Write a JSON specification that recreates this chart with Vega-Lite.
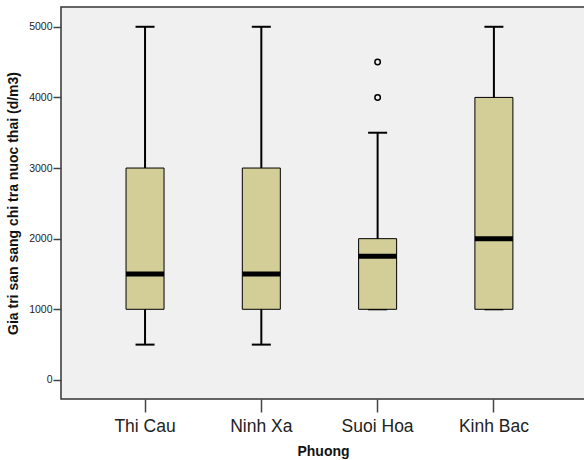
{
  "$schema": "https://vega.github.io/schema/vega-lite/v6.json",
  "width": 524,
  "height": 392,
  "autosize": {"type": "none"},
  "padding": {"left": 61, "top": 7, "right": 0, "bottom": 61},
  "background": "white",
  "config": {
    "view": {"fill": "#F0F0F0", "stroke": "#333333", "strokeWidth": 1.5},
    "font": "Liberation Sans",
    "tick": {"opacity": 1},
    "axis": {"grid": false, "domain": false, "labelFont": "Liberation Sans", "titleFont": "Liberation Sans", "tickColor": "#444", "labelColor": "#222", "titleColor": "#111"}
  },
  "datasets": {
    "boxes": [
      {"Phuong": "Thi Cau", "lo": 500, "q1": 1000, "med": 1500, "q3": 3000, "hi": 5000},
      {"Phuong": "Ninh Xa", "lo": 500, "q1": 1000, "med": 1500, "q3": 3000, "hi": 5000},
      {"Phuong": "Suoi Hoa", "lo": 1000, "q1": 1000, "med": 1750, "q3": 2000, "hi": 3500},
      {"Phuong": "Kinh Bac", "lo": 1000, "q1": 1000, "med": 2000, "q3": 4000, "hi": 5000}
    ],
    "outliers": [
      {"Phuong": "Suoi Hoa", "v": 4000},
      {"Phuong": "Suoi Hoa", "v": 4500}
    ]
  },
  "encoding": {
    "x": {
      "field": "Phuong", "type": "nominal",
      "sort": ["Thi Cau", "Ninh Xa", "Suoi Hoa", "Kinh Bac"],
      "scale": {"paddingInner": 0, "paddingOuter": 0.253, "align": 0.44},
      "axis": {"title": "Phuong", "labelAngle": 0, "labelFontSize": 17.5, "labelPadding": 5, "tickSize": 13, "tickWidth": 1.5, "titleFontSize": 14, "titleFontWeight": "bold", "titlePadding": 10}
    }
  },
  "layer": [
    {
      "data": {"name": "boxes"},
      "mark": {"type": "rule", "color": "black", "strokeWidth": 2},
      "encoding": {
        "y": {"field": "lo", "type": "quantitative",
          "scale": {"domain": [-270, 5280], "nice": false, "zero": false},
          "axis": {"title": "Gia tri san sang chi tra nuoc thai (d/m3)", "values": [0, 1000, 2000, 3000, 4000, 5000], "format": "d", "labelFontSize": 10.5, "tickSize": 8, "tickWidth": 1.5, "labelPadding": 1, "titleFontSize": 14, "titleFontWeight": "bold", "titlePadding": 8}},
        "y2": {"field": "hi"}
      }
    },
    {
      "data": {"name": "boxes"},
      "mark": {"type": "tick", "color": "black", "size": 19, "thickness": 2, "orient": "horizontal"},
      "encoding": {"y": {"field": "lo", "type": "quantitative"}}
    },
    {
      "data": {"name": "boxes"},
      "mark": {"type": "tick", "color": "black", "size": 19, "thickness": 2, "orient": "horizontal"},
      "encoding": {"y": {"field": "hi", "type": "quantitative"}}
    },
    {
      "data": {"name": "boxes"},
      "mark": {"type": "bar", "size": 38, "fill": "#D3CE97", "stroke": "black", "strokeWidth": 1},
      "encoding": {
        "y": {"field": "q1", "type": "quantitative"},
        "y2": {"field": "q3"}
      }
    },
    {
      "data": {"name": "boxes"},
      "mark": {"type": "tick", "color": "black", "size": 38, "thickness": 5, "orient": "horizontal"},
      "encoding": {"y": {"field": "med", "type": "quantitative"}}
    },
    {
      "data": {"name": "outliers"},
      "mark": {"type": "point", "shape": "circle", "size": 30, "stroke": "black", "strokeWidth": 1.5, "filled": false, "opacity": 1},
      "encoding": {"y": {"field": "v", "type": "quantitative"}}
    }
  ]
}
